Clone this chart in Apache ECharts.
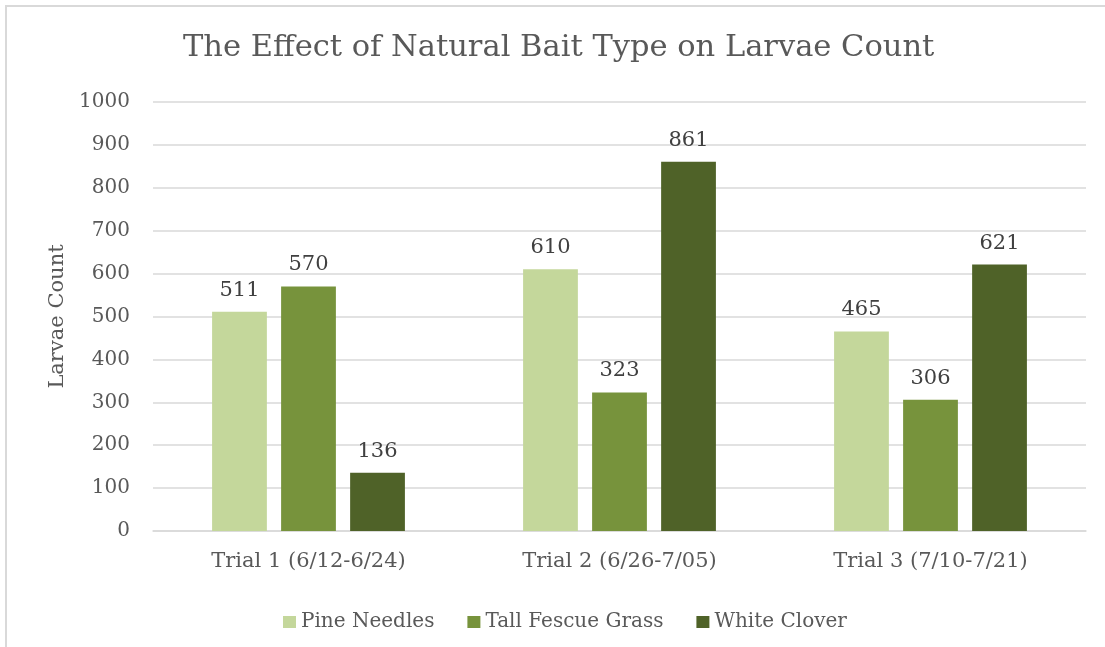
<!DOCTYPE html>
<html>
<head>
<meta charset="utf-8">
<script src="https://cdn.jsdelivr.net/npm/echarts@6/dist/echarts.min.js"></script>
<style>
    html, body {margin: 0; padding: 0; background: #fff;}
    #box {position: absolute; left: 0; top: 0; width: 1105px; height: 647px;}
    #frame {position: absolute; left: 5px; top: 5px; width: 1200px; height: 700px;
        border-left: 2px solid #d9d9d9; border-top: 2px solid #d9d9d9; pointer-events: none;}
</style>
</head>
<body>
<div id="box"></div>
<div id="frame"></div>
<script>
//数据
var categories = ['Trial 1 (6/12-6/24)', 'Trial 2 (6/26-7/05)', 'Trial 3 (7/10-7/21)'];
var pineNeedles = [511, 610, 465];
var tallFescue = [570, 323, 306];
var whiteClover = [136, 861, 621];
var seriesNames = ['Pine Needles', 'Tall Fescue Grass', 'White Clover'];

var font = 'DejaVu Serif';
var box_chart = echarts.init(document.getElementById('box')); //获取装载数据表的容器

function barLabel() {
    return {
        show: true,
        position: 'top',
        distance: 11,
        color: '#404040',
        fontFamily: font,
        fontSize: 21
    };
}

var option = {
    color: ['#c4d79b', '#77933c', '#4f6228'],
    animation: false,
    title: {
        text: 'The Effect of Natural Bait Type on Larvae Count',
        left: 178,
        top: 28,
        textStyle: {
            color: '#595959',
            fontFamily: font,
            fontWeight: 'normal',
            fontSize: 30.5
        }
    },
    legend: {
        left: 278,
        top: 607,
        itemWidth: 13,
        itemHeight: 12,
        itemGap: 33,
        icon: 'rect',
        textStyle: {color: '#595959', fontFamily: font, fontSize: 20},
        data: seriesNames
    },
    grid: {
        top: 102,
        bottom: 116,
        left: 153,
        right: 19
    },
    xAxis: {
        type: 'category',
        data: categories,
        axisLine: {lineStyle: {color: '#d9d9d9', width: 1.5}},
        axisTick: {show: false},
        axisLabel: {color: '#595959', fontFamily: font, fontSize: 21, margin: 20}
    },
    yAxis: {
        type: 'value',
        min: 0,
        max: 1000,
        interval: 100,
        name: 'Larvae Count',
        nameLocation: 'middle',
        nameGap: 82,
        nameTextStyle: {color: '#595959', fontFamily: font, fontSize: 21},
        axisLine: {show: false},
        axisTick: {show: false},
        splitLine: {lineStyle: {color: '#d9d9d9', width: 1.5}},
        axisLabel: {
            color: '#595959', fontFamily: font, fontSize: 20, margin: 23,
            formatter: function (v) {
                return String(v);
            }
        }
    },
    series: [
        {
            name: seriesNames[0],
            type: 'bar',
            barGap: '26%',
            barCategoryGap: '38%',
            label: barLabel(),
            data: pineNeedles
        },
        {
            name: seriesNames[1],
            type: 'bar',
            barGap: '26%',
            barCategoryGap: '38%',
            label: barLabel(),
            data: tallFescue
        },
        {
            name: seriesNames[2],
            type: 'bar',
            barGap: '26%',
            barCategoryGap: '38%',
            label: barLabel(),
            data: whiteClover
        }
    ]
};
box_chart.setOption(option);
</script>
</body>
</html>
